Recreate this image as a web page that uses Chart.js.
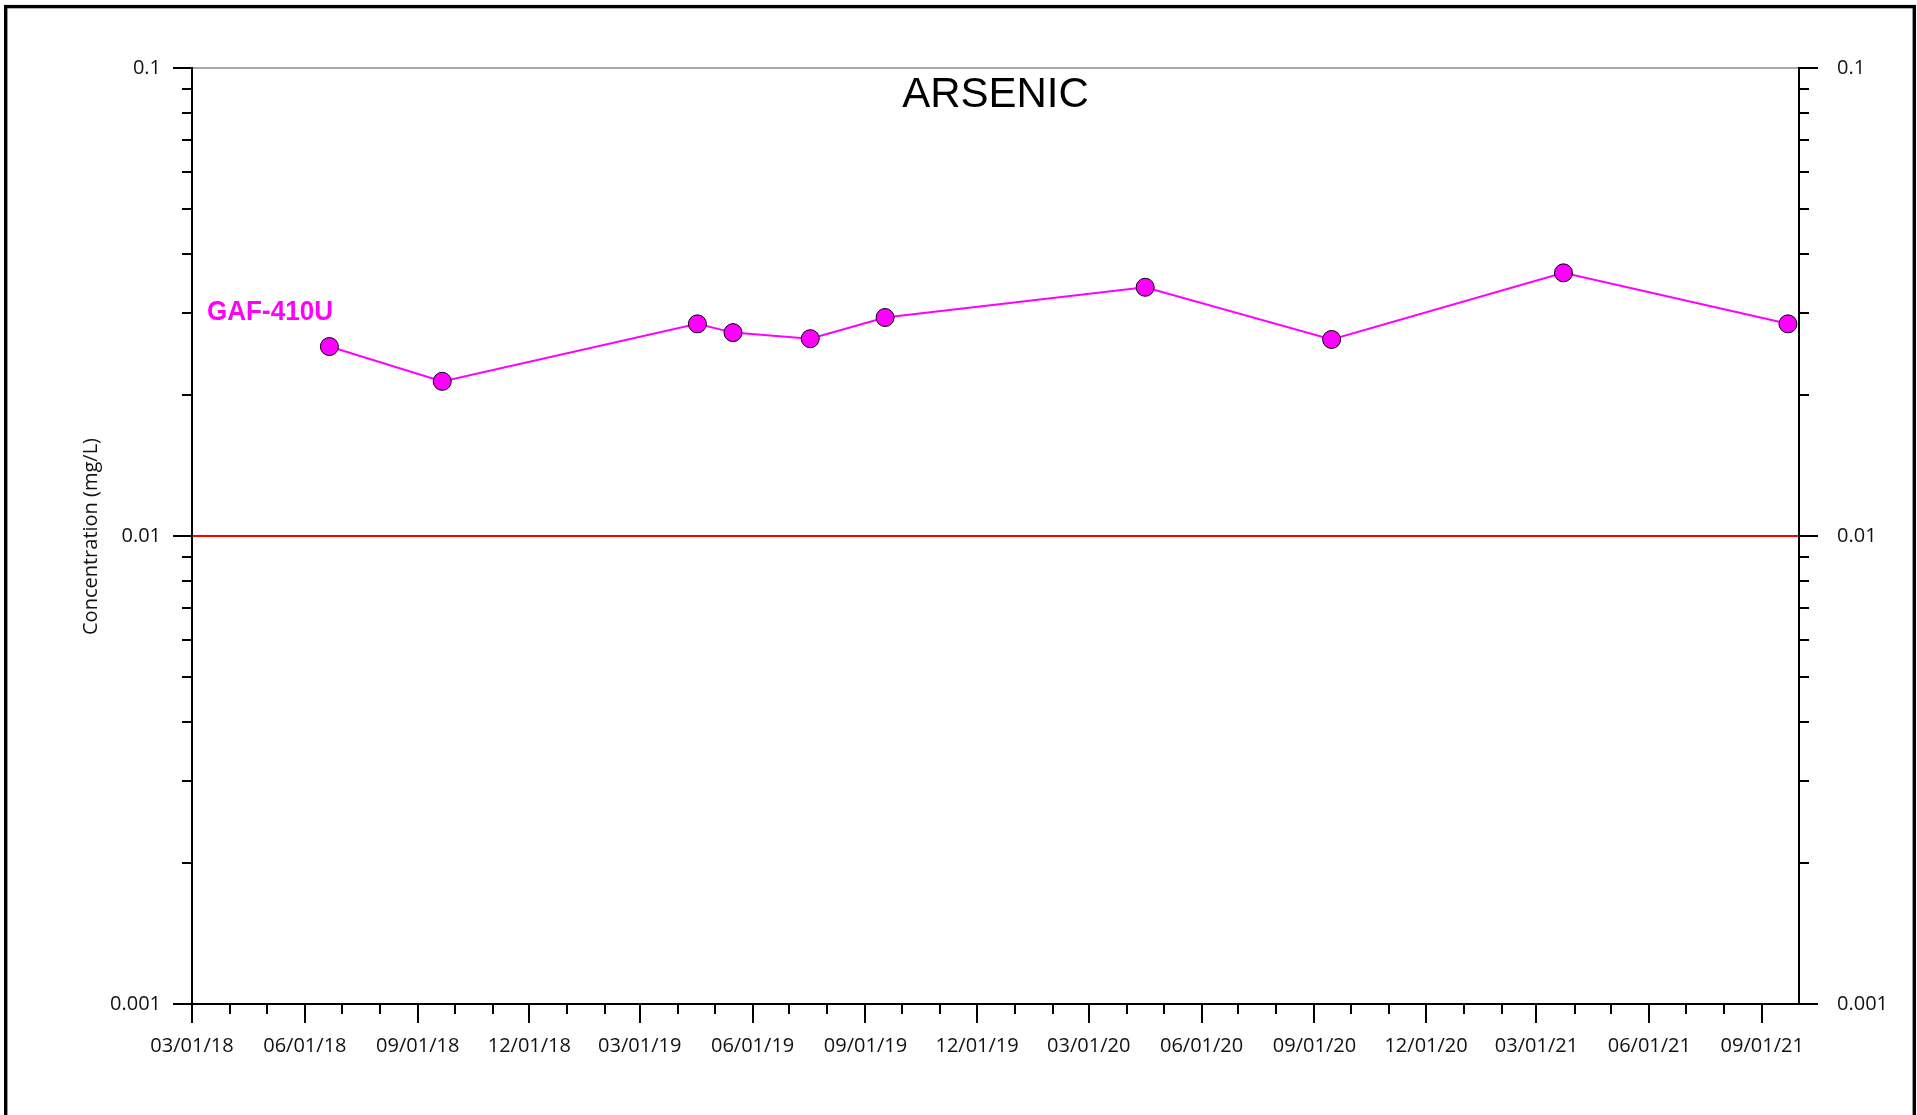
<!DOCTYPE html>
<html>
<head>
<meta charset="utf-8">
<title>Arsenic - GAF-410U</title>
<script src="https://cdn.jsdelivr.net/npm/chart.js@4.4.1/dist/chart.umd.min.js"></script>
<style>
  html, body { margin: 0; padding: 0; background: #ffffff; overflow: hidden; }
  #wrap { width: 1917px; height: 1115px; position: relative; }
  canvas { display: block; }
</style>
</head>
<body>
<div id="wrap"><canvas id="chart" width="1917" height="1115"></canvas></div>
<script>
// Sampling events for well GAF-410U
const sampleDates = [
  '2018-06-21', '2018-09-21', '2019-04-17', '2019-05-16', '2019-07-18',
  '2019-09-17', '2020-04-16', '2020-09-15', '2021-03-23', '2021-09-22'
];
// Arsenic concentration, mg/L
const arsenic = [
  0.0254, 0.0214, 0.0284, 0.0272, 0.0264,
  0.0293, 0.0340, 0.0263, 0.0365, 0.0284
];
const wellName = 'GAF-410U';
const analyte = 'ARSENIC';
const yAxisTitle = 'Concentration (mg/L)';

// Regulatory limit drawn as a horizontal line
const standardLevel = 0.01;

// Axis ranges and labels
const xRange = ['2018-03-01', '2021-10-01'];
const xTickLabels = [
  '03/01/18', '06/01/18', '09/01/18', '12/01/18', '03/01/19', '06/01/19',
  '09/01/19', '12/01/19', '03/01/20', '06/01/20', '09/01/20', '12/01/20',
  '03/01/21', '06/01/21', '09/01/21'
];
const yRange = [0.001, 0.1];
const yTickValues = [0.001, 0.01, 0.1];
const yTickLabels = ['0.001', '0.01', '0.1'];

// ---- helpers ----
const isoToMs = s => { const [y, m, d] = s.split('-').map(Number); return Date.UTC(y, m - 1, d); };
const mdyToMs = s => { const [m, d, y] = s.split('/').map(Number); return Date.UTC(2000 + y, m - 1, d); };
const xTickValues = xTickLabels.map(mdyToMs);
const xMin = isoToMs(xRange[0]);
const xMax = isoToMs(xRange[1]);

const FONT = "'Open Sans', 'Noto Sans', 'DejaVu Sans', sans-serif";
const INK = '#111111';

function hLine(ctx, x1, y, x2) { ctx.beginPath(); ctx.moveTo(x1, y); ctx.lineTo(x2, y); ctx.stroke(); }
function vLine(ctx, x, y1, y2) { ctx.beginPath(); ctx.moveTo(x, y1); ctx.lineTo(x, y2); ctx.stroke(); }

// Axis lines, major/minor tick marks, page frame and text annotations
const decorations = {
  id: 'decorations',
  afterDatasetsDraw(chart) {
    const { ctx, chartArea: a, scales } = chart;
    const xs = scales.x, ys = scales.y;
    const MAJOR = 19, MINOR = 10;
    ctx.save();
    ctx.lineCap = 'butt';

    // plot top edge
    ctx.strokeStyle = '#a8a8a8';
    ctx.lineWidth = 2;
    hLine(ctx, a.left, a.top, a.right);

    ctx.strokeStyle = '#000000';
    ctx.lineWidth = 2;
    // left, right and bottom axis lines
    vLine(ctx, a.left, a.top - 1, a.bottom);
    vLine(ctx, a.right, a.top - 1, a.bottom);
    hLine(ctx, a.left - MAJOR, a.bottom, a.right + MAJOR);

    // log ticks on both vertical axes
    const lo = Math.log10(yRange[0]), hi = Math.log10(yRange[1]);
    for (let e = lo; e <= hi; e++) {
      for (let k = 1; k <= 9; k++) {
        const v = k * Math.pow(10, e);
        if (v > yRange[1] * 1.0001) break;
        const py = Math.round(ys.getPixelForValue(v));
        const len = k === 1 ? MAJOR : MINOR;
        hLine(ctx, a.left - len, py, a.left);
        hLine(ctx, a.right, py, a.right + len);
      }
    }

    // monthly ticks on the time axis, longer on the labelled quarters
    const start = new Date(xMin);
    let yy = start.getUTCFullYear(), mm = start.getUTCMonth();
    while (true) {
      const t = Date.UTC(yy, mm, 1);
      if (t > xMax) break;
      if (t < xMax) {
        const px = Math.round(xs.getPixelForValue(t));
        const len = xTickValues.includes(t) ? MAJOR : MINOR;
        vLine(ctx, px, a.bottom, a.bottom + len);
      }
      mm++; if (mm > 11) { mm = 0; yy++; }
    }

    // page frame
    ctx.lineWidth = 3.4;
    ctx.strokeRect(5.7, 6.6, chart.width - 8.4, chart.height + 200);
    ctx.restore();
  },
  afterDraw(chart) {
    const { ctx, chartArea: a } = chart;
    ctx.save();
    // chart title inside the plot
    ctx.fillStyle = '#000000';
    ctx.font = "42px 'Liberation Sans', Arial, sans-serif";
    ctx.textAlign = 'center';
    ctx.textBaseline = 'alphabetic';
    ctx.fillText(analyte, (a.left + a.right) / 2, a.top + 39);

    // series label
    ctx.fillStyle = '#ff00ff';
    ctx.font = "bold 28px 'Liberation Sans', Arial, sans-serif";
    ctx.textAlign = 'left';
    const w = ctx.measureText(wellName).width;
    ctx.translate(a.left + 15, a.top + 252);
    ctx.scale(126 / w, 1);
    ctx.fillText(wellName, 0, 0);
    ctx.setTransform(1, 0, 0, 1, 0, 0);

    // vertical axis title
    ctx.fillStyle = INK;
    ctx.font = '20px ' + FONT;
    ctx.textAlign = 'center';
    ctx.textBaseline = 'middle';
    ctx.translate(91, (a.top + a.bottom) / 2 + 0.5);
    ctx.rotate(-Math.PI / 2);
    ctx.fillText(yAxisTitle, 0, 0);
    ctx.restore();
  }
};

const seriesPoints = sampleDates.map((d, i) => ({ x: isoToMs(d), y: arsenic[i] }));
const standardPoints = [{ x: xMin, y: standardLevel }, { x: xMax, y: standardLevel }];

const yTicksCommon = {
  autoSkip: false,
  color: INK,
  font: { family: FONT, size: 20 },
  callback: v => { const i = yTickValues.findIndex(t => Math.abs(t - v) / t < 1e-6); return i >= 0 ? yTickLabels[i] : ''; }
};

new Chart(document.getElementById('chart'), {
  type: 'line',
  data: {
    datasets: [
      {
        label: wellName,
        data: seriesPoints,
        borderColor: '#ff00ff',
        borderWidth: 2,
        pointRadius: 9,
        pointBackgroundColor: '#ff00ff',
        pointBorderColor: '#000000',
        pointBorderWidth: 1,
        tension: 0,
        yAxisID: 'y'
      },
      {
        label: 'Standard',
        data: standardPoints,
        borderColor: '#ff0000',
        borderWidth: 2,
        pointRadius: 0,
        tension: 0,
        yAxisID: 'y'
      }
    ]
  },
  options: {
    responsive: false,
    devicePixelRatio: 1,
    animation: false,
    events: [],
    layout: { padding: { top: 68, left: 0, right: 0, bottom: 0 } },
    plugins: { legend: { display: false }, tooltip: { enabled: false }, title: { display: false } },
    scales: {
      x: {
        type: 'linear',
        position: 'bottom',
        min: xMin,
        max: xMax,
        grid: { display: false, drawTicks: false },
        border: { display: false },
        afterBuildTicks: s => { s.ticks = xTickValues.map(v => ({ value: v })); },
        afterFit: s => { s.height = 111; },
        ticks: {
          autoSkip: false,
          maxRotation: 0,
          padding: 30,
          color: INK,
          font: { family: FONT, size: 20 },
          callback: v => { const i = xTickValues.indexOf(v); return i >= 0 ? xTickLabels[i] : ''; }
        }
      },
      y: {
        type: 'logarithmic',
        position: 'left',
        min: yRange[0],
        max: yRange[1],
        grid: { display: false, drawTicks: false },
        border: { display: false },
        afterBuildTicks: s => { s.ticks = yTickValues.map(v => ({ value: v })); },
        afterFit: s => { s.width = 192; },
        ticks: Object.assign({ padding: 31 }, yTicksCommon)
      },
      y2: {
        type: 'logarithmic',
        position: 'right',
        min: yRange[0],
        max: yRange[1],
        grid: { display: false, drawTicks: false },
        border: { display: false },
        afterBuildTicks: s => { s.ticks = yTickValues.map(v => ({ value: v })); },
        afterFit: s => { s.width = 118; },
        ticks: Object.assign({ padding: 38 }, yTicksCommon)
      }
    }
  },
  plugins: [decorations]
});
</script>
</body>
</html>
